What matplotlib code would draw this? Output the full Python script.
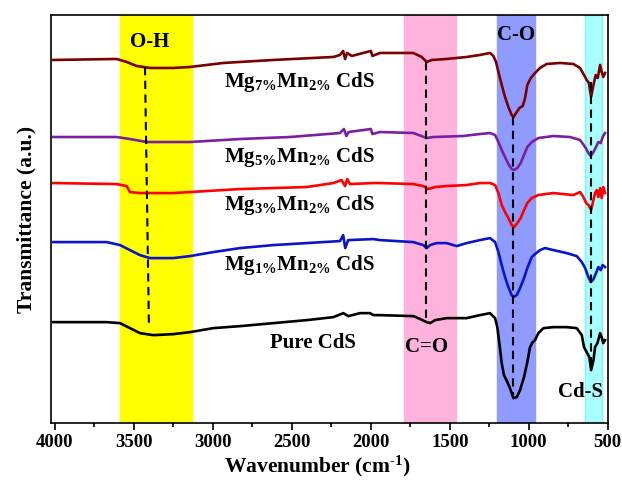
import matplotlib
matplotlib.use("Agg")
import matplotlib.pyplot as plt
from matplotlib.ticker import MultipleLocator

plt.rcParams['font.family'] = ['Liberation Serif', 'DejaVu Serif']
plt.rcParams['font.weight'] = 'bold'
plt.rcParams['mathtext.fontset'] = 'custom'
plt.rcParams['mathtext.rm'] = 'Liberation Serif:bold'
plt.rcParams['mathtext.it'] = 'Liberation Serif:bold'
plt.rcParams['mathtext.bf'] = 'Liberation Serif:bold'
plt.rcParams['mathtext.default'] = 'rm'

# ---- data (wavenumber in cm^-1, transmittance in a.u. with vertical offsets) ----
wn_mg7 = [4010, 3610, 3546, 3483, 3398, 3251, 3145, 2934, 2617, 2237, 2195, 2175, 2163, 2150,
          2120, 2000, 1990, 1942, 1731, 1678, 1646, 1614, 1520, 1393, 1309, 1245,
          1224, 1207, 1192, 1171, 1150, 1129, 1108, 1097, 1080, 1059, 1038, 1023, 1009, 987,
          960, 929, 886, 802, 718, 675, 650, 633, 619, 605, 590, 576, 563, 548, 538, 528, 517]
t_mg7 = [363, 364, 361, 357, 355, 355, 356, 360, 363, 366, 368, 372, 364, 370,
         367, 372, 367, 370, 370, 366, 361, 363, 364, 366, 368, 370,
         367, 361, 351, 338, 326, 316, 308, 306, 310, 315, 317, 325, 338, 345,
         350, 355, 359, 360, 359, 355, 348, 343, 340, 326, 338, 348, 345, 358, 351, 346, 350]

wn_mg5 = [4010, 3610, 3525, 3419, 3145, 2828, 2512, 2195, 2170, 2155, 2140, 2000, 1990, 1942,
          1731, 1646, 1604, 1416, 1309, 1245, 1213, 1192, 1171, 1150, 1129, 1108, 1093,
          1072, 1051, 1030, 1009, 981, 939, 844, 739, 675, 643, 622, 607, 590, 574, 559,
          544, 532, 517]
t_mg5 = [286, 286, 284, 281, 281, 284, 286, 290, 294, 287, 291, 294, 289, 291,
         290, 285, 286, 287, 289, 290, 288, 281, 273, 266, 259, 254, 253,
         255, 260, 268, 276, 281, 285, 287, 286, 283, 276, 270, 267, 271, 276, 281,
         280, 286, 290]

wn_mg3 = [4010, 3610, 3546, 3525, 3462, 3251, 3145, 2828, 2406, 2237, 2185, 2163, 2150, 2132,
          1984, 1942, 1731, 1668, 1636, 1593, 1520, 1393, 1309, 1245, 1213, 1192, 1171,
          1150, 1129, 1108, 1093, 1072, 1051, 1030, 1009, 981, 939, 844, 718, 675, 654,
          636, 622, 605, 590, 580, 569, 559, 548, 538, 528, 517]
t_mg3 = [240, 239, 237, 231, 230, 230, 231, 234, 236, 240, 243, 237, 244, 239,
         240, 240, 239, 237, 234, 236, 237, 238, 240, 240, 238, 230, 218,
         211, 205, 198, 196, 200, 205, 213, 220, 225, 228, 230, 228, 231, 226,
         220, 218, 213, 223, 230, 233, 226, 235, 225, 236, 230]

wn_mg1 = [4010, 3673, 3588, 3525, 3462, 3398, 3251, 3145, 2998, 2828, 2617, 2406, 2195, 2175,
          2162, 2143, 1984, 1942, 1731, 1668, 1646, 1625, 1583, 1520, 1456, 1393, 1309,
          1245, 1213, 1192, 1171, 1150, 1129, 1108, 1097, 1076, 1055, 1030, 1009, 981, 960,
          929, 897, 844, 760, 696, 664, 643, 622, 607, 590, 574, 559, 544, 532, 517]
t_mg1 = [181, 181, 178, 173, 168, 165, 165, 167, 171, 175, 178, 180, 182, 188,
         175, 183, 184, 183, 181, 178, 175, 178, 180, 180, 177, 180, 183,
         185, 181, 171, 158, 146, 136, 128, 126, 128, 135, 145, 155, 166, 169,
         173, 175, 173, 170, 167, 161, 155, 146, 141, 144, 150, 156, 153, 158, 156]

wn_pure = [4010, 3673, 3588, 3525, 3462, 3377, 3251, 3145, 2998, 2828, 2617, 2406, 2237, 2174,
           2143, 2068, 2005, 1984, 1942, 1731, 1700, 1646, 1625, 1593, 1520, 1393, 1309,
           1245, 1213, 1199, 1186, 1171, 1157, 1135, 1114, 1097, 1076, 1055, 1030, 1009, 992,
           975, 960, 939, 907, 844, 760, 696, 664, 650, 633, 616, 605, 590, 580, 565, 548,
           538, 528, 517]
t_pure = [101, 101, 100, 95, 90, 88, 89, 91, 95, 97, 100, 103, 106, 110,
          107, 110, 110, 108, 108, 107, 105, 101, 100, 103, 105, 105, 108,
          110, 105, 96, 80, 60, 48, 41, 33, 25, 26, 33, 46, 61, 76,
          81, 83, 90, 95, 96, 96, 95, 88, 76, 71, 66, 53, 63, 76, 80, 90,
          86, 80, 83]

series = [
    (wn_mg7, t_mg7, '#7A0000'),
    (wn_mg5, t_mg5, '#7B1FA0'),
    (wn_mg3, t_mg3, '#FF0000'),
    (wn_mg1, t_mg1, '#0A14C8'),
    (wn_pure, t_pure, '#000000'),
]

labels = [r'Mg$_{7\%}$Mn$_{2\%}$ CdS', r'Mg$_{5\%}$Mn$_{2\%}$ CdS',
          r'Mg$_{3\%}$Mn$_{2\%}$ CdS', r'Mg$_{1\%}$Mn$_{2\%}$ CdS', 'Pure CdS']
label_wn = [2448, 2448, 2448, 2448, 2366]
label_t = [341, 266, 218, 158, 80]

# shaded bands (wavenumber ranges)
bands = [(3588, 3133, '#FFFF00', 'O-H', 3398, 381),
         (1787, 1463, '#FFB3DC', 'C=O', 1644, 76),
         (1200, 960, '#8F9BFF', 'C-O', 1082, 388),
         (645, 535, '#A8FFFF', 'Cd-S', 675, 31)]

# dashed guide lines: (wn_top, wn_bottom, t_top, t_bottom)
guides = [(3430, 3405, 356, 98),
          (1650, 1650, 361, 100),
          (1097, 1097, 306, 27),
          (607, 607, 341, 56)]

fig = plt.figure(figsize=(6.22, 4.82), dpi=100)
ax = fig.add_axes([0.0815, 0.122, 0.8955, 0.847])

for lo, hi, col, name, tx, ty in bands:
    ec = '#7FF5F5' if name == 'Cd-S' else col
    ax.axvspan(hi, lo, facecolor=col, edgecolor=ec, lw=1.0, zorder=0)
    ax.text(tx, ty, name, ha='center', va='center', fontsize=15, fontweight='bold')

for wn, t, c in series:
    ax.plot(wn, t, color=c, lw=1.9, zorder=3, solid_joinstyle='round')

for x0, x1, y0, y1 in guides:
    ax.plot([x0, x1], [y0, y1], color='black', lw=1.5, ls=(0, (4, 2.6)), zorder=4)

for lab, x, y in zip(labels, label_wn, label_t):
    ax.text(x, y, lab, ha='center', va='center', fontsize=15, fontweight='bold')

ax.set_xlim(4027, 500)
ax.set_ylim(0, 408)
ax.xaxis.set_major_locator(MultipleLocator(500))
ax.xaxis.set_minor_locator(MultipleLocator(250))
ax.set_yticks([])
ax.tick_params(axis='x', which='major', direction='out', length=5, width=1.2,
               labelsize=13.5, pad=3)
ax.tick_params(axis='x', which='minor', direction='out', length=3, width=1.2)
for lab in ax.get_xticklabels():
    lab.set_fontweight('bold')
for s in ax.spines.values():
    s.set_linewidth(1.2)

ax.set_xlabel('Wavenumber (cm$^{\u2010 1}$)', fontsize=15.5, fontweight='bold', labelpad=2)
ax.xaxis.set_label_coords(0.478, -0.075)
ax.set_ylabel('Transmittance (a.u.)', fontsize=15.5, fontweight='bold', labelpad=10)

fig.savefig('out.png', dpi=100)
